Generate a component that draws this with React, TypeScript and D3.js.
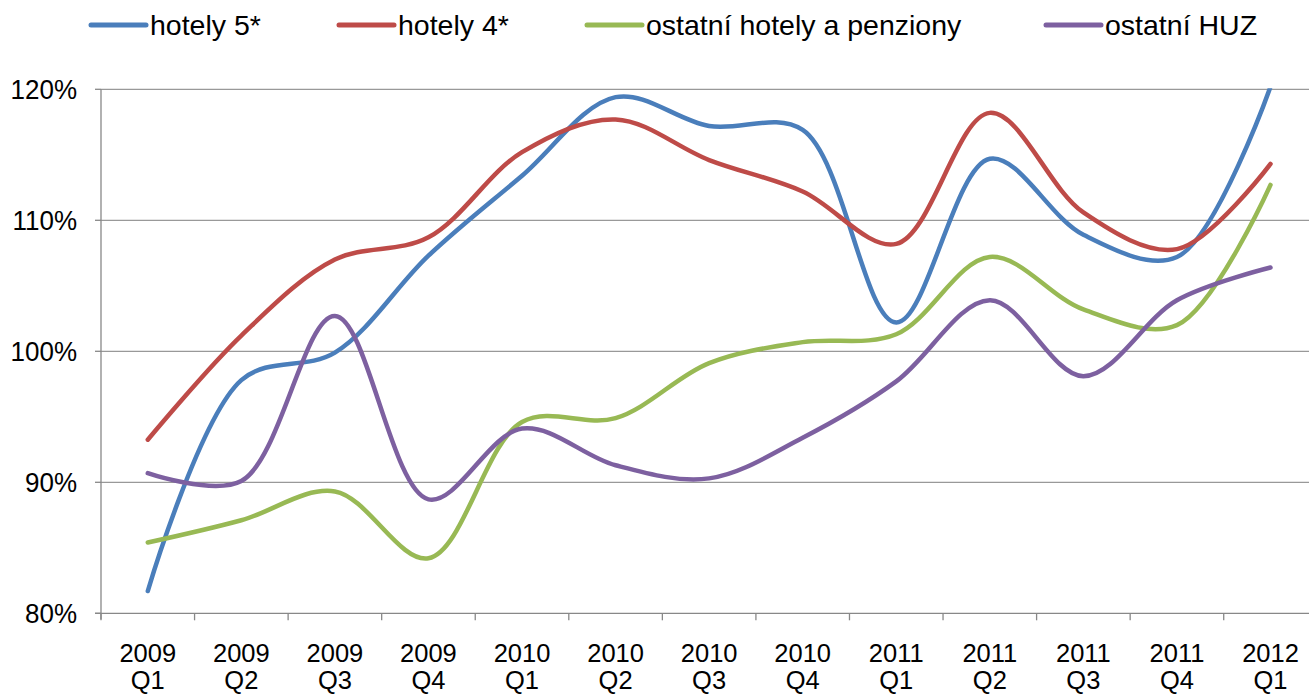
import * as d3 from "d3";
import React from "react";

// quarters on the x axis (two lines each)
const quarters = [
  ["2009", "Q1"], ["2009", "Q2"], ["2009", "Q3"], ["2009", "Q4"],
  ["2010", "Q1"], ["2010", "Q2"], ["2010", "Q3"], ["2010", "Q4"],
  ["2011", "Q1"], ["2011", "Q2"], ["2011", "Q3"], ["2011", "Q4"],
  ["2012", "Q1"],
];

const hotely5 = [81.7, 97.8, 99.9, 107.3, 113.4, 119.4, 117.2, 116.9, 102.2, 114.7, 108.9, 107.2, 120.2];
const hotely4 = [93.25, 101.2, 107.0, 108.7, 115.2, 117.7, 114.6, 112.2, 108.2, 118.2, 110.6, 107.8, 114.3];
const ostatniHotely = [85.4, 87.1, 89.3, 84.2, 94.6, 94.9, 99.1, 100.7, 101.3, 107.2, 103.2, 102.0, 112.7];
const ostatniHUZ = [90.7, 90.1, 102.7, 88.7, 94.1, 91.3, 90.3, 93.4, 97.7, 103.9, 98.1, 103.9, 106.4];

const yTicks = [80, 90, 100, 110, 120];

const series = [
  { name: "hotely 5*", values: hotely5, color: "#4A7EBB", lx: 91 },
  { name: "hotely 4*", values: hotely4, color: "#BE4B48", lx: 339 },
  { name: "ostatní hotely a penziony", values: ostatniHotely, color: "#98B954", lx: 587 },
  { name: "ostatní HUZ", values: ostatniHUZ, color: "#7D60A0", lx: 1046 },
];

const W = 1309;
const H = 694;
const left = 101;
const top = 89.3;
const bottom = 613.3;
const font = "'Liberation Sans', Arial, sans-serif";

export default function App() {
  const x = d3
    .scaleBand()
    .domain(quarters.map((_, i) => String(i)))
    .range([left, left + 13 * 93.56]);
  const y = d3.scaleLinear().domain([80, 120]).range([bottom, top]);
  const cx = (i: number) => x(String(i))! + x.bandwidth() / 2;

  const line = d3
    .line<number>()
    .x((_, i) => cx(i))
    .y((d) => y(d))
    .curve(d3.curveCatmullRom.alpha(0.5));

  return (
    <svg
      width={W}
      height={H}
      style={{ position: "absolute", left: 0, top: 0, background: "#fff" }}
      fontFamily={font}
    >
      <defs>
        <clipPath id="plot">
          <rect x={left} y={top - 1} width={W - left} height={bottom - top + 10} />
        </clipPath>
      </defs>

      {/* gridlines + y labels */}
      {yTicks.map((t) => (
        <g key={t}>
          {t > 80 && (
            <line x1={left} x2={W} y1={y(t)} y2={y(t)} stroke="#999" strokeWidth={1.3} />
          )}
          <line x1={left - 6} x2={left} y1={y(t)} y2={y(t)} stroke="#888" strokeWidth={1.3} />
          <text
            transform={`translate(77,${y(t) + 9.5}) scale(1,1.08)`}
            textAnchor="end"
            fontSize={26}
            fill="#000"
          >
            {t}%
          </text>
        </g>
      ))}

      {/* axes */}
      <line x1={left} x2={left} y1={top} y2={bottom + 6} stroke="#888" strokeWidth={1.3} />
      <line x1={left - 6} x2={W} y1={bottom} y2={bottom} stroke="#888" strokeWidth={1.3} />
      {quarters.map((_, i) => (
        <line
          key={i}
          x1={x(String(i))!}
          x2={x(String(i))!}
          y1={bottom}
          y2={bottom + 7}
          stroke="#888"
          strokeWidth={1.3}
        />
      ))}
      {quarters.map((q, i) => (
        <text key={i} fontSize={25.5} fill="#000" textAnchor="middle">
          <tspan x={cx(i)} y={662}>{q[0]}</tspan>
          <tspan x={cx(i)} y={689}>{q[1]}</tspan>
        </text>
      ))}

      {/* series */}
      <g clipPath="url(#plot)">
        {series.map((s) => (
          <path
            key={s.name}
            d={line(s.values)!}
            fill="none"
            stroke={s.color}
            strokeWidth={4.5}
            strokeLinecap="round"
            strokeLinejoin="round"
          />
        ))}
      </g>

      {/* legend */}
      {series.map((s) => (
        <g key={s.name}>
          <line x1={s.lx} x2={s.lx + 55} y1={25} y2={25} stroke={s.color} strokeWidth={5} strokeLinecap="round" />
          <text x={s.lx + 59} y={35} fontSize={28.5} fill="#000">
            {s.name}
          </text>
        </g>
      ))}
    </svg>
  );
}
